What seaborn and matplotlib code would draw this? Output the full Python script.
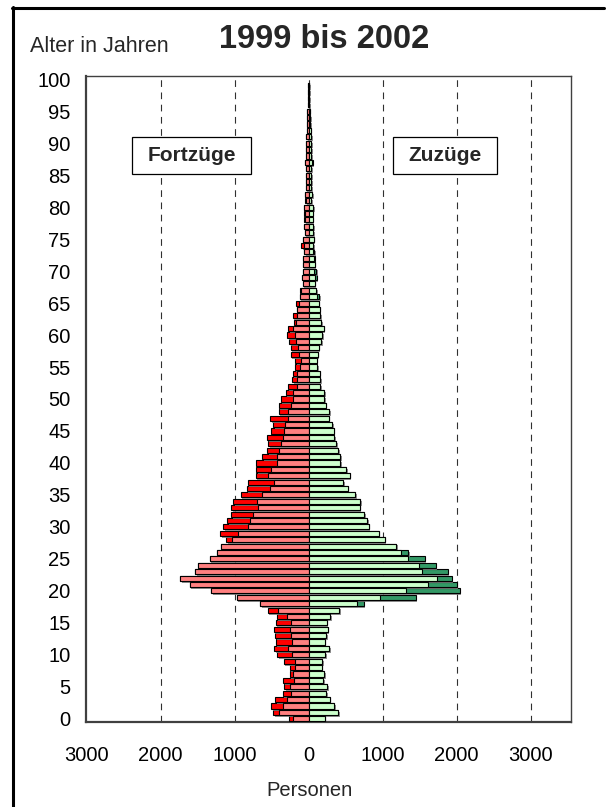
import numpy as np
import pandas as pd
import seaborn as sns
import matplotlib
matplotlib.use("Agg")
import matplotlib.pyplot as plt
from matplotlib import patheffects as pe
from matplotlib.patches import Rectangle
from matplotlib.lines import Line2D

# ---------------- data ----------------
ages = list(range(0, 100))
fortzuege = [266, 482, 509, 455, 351, 333, 347, 257, 257, 338,
             423, 460, 446, 455, 473, 446, 432, 554, 651, 971,
             1313, 1608, 1730, 1532, 1498, 1338, 1243, 1180, 1117, 1198,
             1149, 1095, 1041, 1041, 1014, 919, 838, 824, 716, 703,
             707, 622, 563, 541, 559, 505, 482, 514, 405, 405,
             378, 311, 282, 225, 216, 185, 176, 243, 243, 266,
             293, 279, 194, 216, 155, 167, 120, 117, 81, 85,
             72, 81, 68, 63, 95, 68, 54, 63, 60, 59,
             59, 45, 45, 40, 40, 36, 40, 50, 36, 36,
             36, 32, 27, 22, 18, 15, 12, 9, 7, 5]
zuzuege = [216, 405, 343, 286, 236, 250, 196, 211, 176, 187,
           225, 281, 220, 241, 257, 243, 293, 414, 743, 1446,
           2041, 2000, 1933, 1879, 1716, 1568, 1351, 1185, 1031, 948,
           813, 795, 750, 689, 694, 630, 527, 468, 554, 505,
           430, 426, 400, 372, 349, 338, 324, 272, 277, 232,
           210, 212, 160, 155, 151, 120, 108, 122, 136, 167,
           181, 205, 170, 155, 149, 135, 140, 99, 81, 108,
           99, 81, 81, 72, 66, 68, 63, 59, 54, 54,
           59, 40, 45, 36, 40, 36, 36, 54, 36, 40,
           36, 32, 27, 22, 18, 15, 12, 9, 7, 5]

x_ticks = [-3000, -2000, -1000, 0, 1000, 2000, 3000]
x_tick_labels = ["3000", "2000", "1000", "0", "1000", "2000", "3000"]
y_ticks = list(range(0, 101, 5))
grid_positions = [-2000, -1000, 0, 1000, 2000, 3000]

title_text = "1999 bis 2002"
y_label_text = "Alter in Jahren"
x_label_text = "Personen"
left_label = "Fortzüge"
right_label = "Zuzüge"

# ---------------- style ----------------
sns.set_style("white")
plt.rcParams["font.family"] = ["Liberation Sans", "DejaVu Sans"]

df = pd.DataFrame({"age": ages, "F": fortzuege, "Z": zuzuege})
df["common"] = df[["F", "Z"]].min(axis=1)
df["F_neg"] = -df["F"]
df["common_neg"] = -df["common"]

W, H = 615, 807
fig = plt.figure(figsize=(W / 100, H / 100), dpi=100)
ax = fig.add_axes([86 / W, 1 - 722 / H, (571 - 86) / W, (722 - 76) / H])

shadow = [pe.SimplePatchShadow(offset=(1.2, -1.4), shadow_rgbFace="#808080", alpha=0.85),
          pe.Normal()]
common_kw = dict(orient="h", native_scale=True, width=0.8, saturation=1,
                 edgecolor="black", linewidth=0.8, errorbar=None, ax=ax)

# outer (full) bars with shadow
sns.barplot(data=df, x="F_neg", y="age", color="#FF0000",
            path_effects=shadow, zorder=3, **common_kw)
sns.barplot(data=df, x="Z", y="age", color="#339966",
            path_effects=shadow, zorder=3, **common_kw)
# common (light) part
sns.barplot(data=df, x="common_neg", y="age", color="#FF8080",
            zorder=4, **common_kw)
sns.barplot(data=df, x="common", y="age", color="#CCFFCC",
            zorder=4, **common_kw)

# dashed vertical grid lines
for g in grid_positions:
    ax.axvline(g, color="#303030", lw=0.8, dashes=(6, 5), zorder=1)

ax.set_xlim(-3007, 3547)
ax.set_ylim(-0.5, 100.5)
ax.set_xticks(x_ticks)
ax.set_xticklabels(x_tick_labels)
ax.set_yticks(y_ticks)
ax.set_yticklabels([str(v) for v in y_ticks])
ax.tick_params(axis="both", length=0, labelsize=14.5, colors="black")
ax.tick_params(axis="y", pad=11)
ax.tick_params(axis="x", pad=17)
ax.set_xlabel("")
ax.set_ylabel("")

for side in ["left", "bottom"]:
    ax.spines[side].set_color("#404040")
    ax.spines[side].set_linewidth(1.6)
for side in ["top", "right"]:
    ax.spines[side].set_color("#404040")
    ax.spines[side].set_linewidth(1.0)

# label boxes
def px_to_data_x(px):
    return (px - 308.5) / 74.0 * 1000

def px_to_data_y(py):
    return (719 - py) / 6.4

for (x0, x1, txt) in [(132, 251, left_label), (393, 497, right_label)]:
    dx0, dx1 = px_to_data_x(x0), px_to_data_x(x1)
    dy0, dy1 = px_to_data_y(174), px_to_data_y(137)
    ax.add_patch(Rectangle((dx0, dy0), dx1 - dx0, dy1 - dy0, facecolor="white",
                           edgecolor="black", lw=0.9, zorder=5))
    ax.text((dx0 + dx1) / 2, (dy0 + dy1) / 2, txt, ha="center", va="center",
            fontsize=15, fontweight="bold", zorder=6)

# texts
fig.text(324 / W, 1 - 40 / H, title_text, ha="center", va="center",
         fontsize=23.5, fontweight="bold")
fig.text(30 / W, 1 - 46 / H, y_label_text, ha="left", va="center", fontsize=15.5)
fig.text(309 / W, 1 - 790 / H, x_label_text, ha="center", va="center", fontsize=14.5)

# outer frame (top and left)
fig.add_artist(Line2D([12.5 / W, 12.5 / W], [0, 1 - 7 / H], color="black", lw=2.2,
                      transform=fig.transFigure))
fig.add_artist(Line2D([11.5 / W, 604 / W], [1 - 7.5 / H, 1 - 7.5 / H], color="black",
                      lw=2.2, transform=fig.transFigure))

fig.savefig("out.png", dpi=100)
